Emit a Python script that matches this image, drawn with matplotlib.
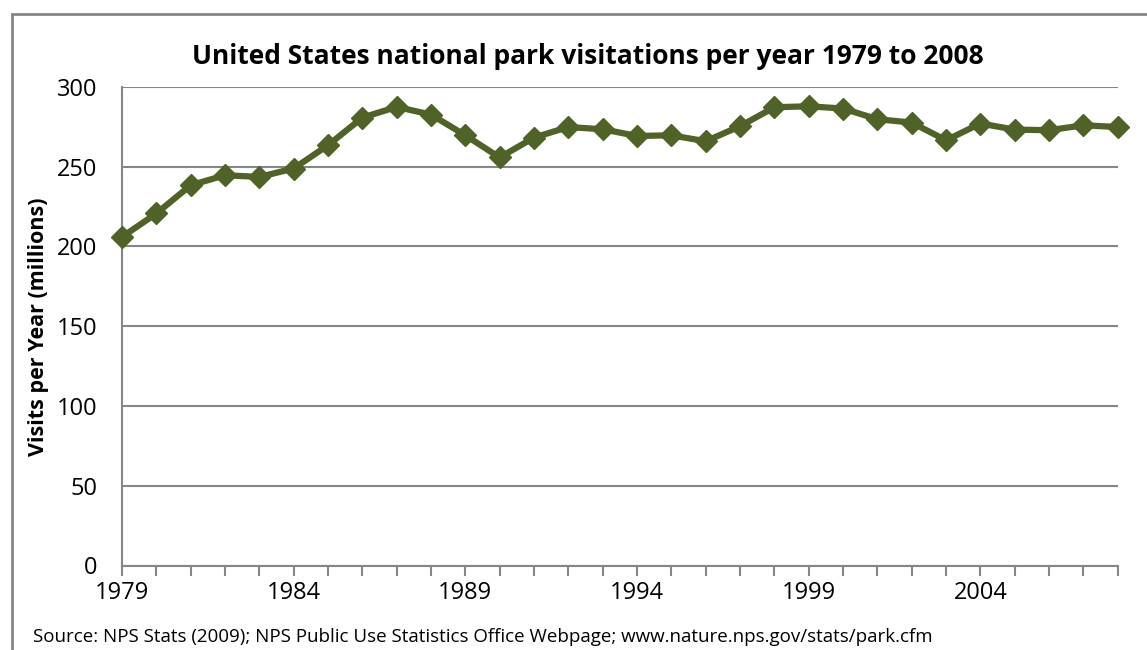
import matplotlib
matplotlib.use("Agg")
import matplotlib.pyplot as plt
from matplotlib.patches import Rectangle
from matplotlib.ticker import MultipleLocator, FixedLocator

years = list(range(1979, 2009))
visits = [206.0, 220.7, 238.4, 244.7, 243.6, 248.9, 263.5, 280.8, 287.5, 282.7,
          269.7, 255.8, 268.3, 274.9, 273.5, 269.3, 269.7, 266.0, 275.4, 287.3,
          287.9, 286.5, 279.8, 277.7, 266.6, 277.1, 273.3, 272.9, 276.0, 274.9]
label_years = [1979, 1984, 1989, 1994, 1999, 2004]

title = "United States national park visitations per year 1979 to 2008"
ylabel = "Visits per Year (millions)"
source = "Source: NPS Stats (2009); NPS Public Use Statistics Office Webpage; www.nature.nps.gov/stats/park.cfm"

W, H = 1147, 650
plt.rcParams['font.family'] = ['Open Sans', 'DejaVu Sans']
fig = plt.figure(figsize=(W / 100, H / 100), dpi=100)

# outer chart frame
fig.patches.append(Rectangle((12 / W, -0.1), 1.2, 1 - 14 / H + 0.1,
                             transform=fig.transFigure, fill=False,
                             edgecolor="#868686", linewidth=2))

ax = fig.add_axes([122 / W, 1 - 565.5 / H, (1117.7 - 122) / W, (565.5 - 87) / H])
line_color = "#4F6228"
ax.plot(years, visits, color=line_color, linewidth=4.5, marker="D",
        markersize=11.5, markerfacecolor=line_color, markeredgecolor=line_color,
        zorder=3, clip_on=False)

ax.set_xlim(1979, 2008)
ax.set_ylim(0, 300)
ax.yaxis.set_major_locator(MultipleLocator(50))
ax.xaxis.set_major_locator(FixedLocator(years))
ax.set_xticklabels([str(y) if y in label_years else "" for y in years])
ax.grid(axis="y", color="#868686", linewidth=1.5)
ax.set_axisbelow(True)

for side in ("top", "right"):
    ax.spines[side].set_visible(False)
for side in ("left", "bottom"):
    ax.spines[side].set_color("#868686")
    ax.spines[side].set_linewidth(1.5)

ax.tick_params(axis="x", direction="out", length=7, width=1.5, color="#868686",
               labelsize=17, pad=4)
ax.tick_params(axis="y", length=0, labelsize=17, pad=18)

ax.set_ylabel(ylabel, fontsize=15.5, fontweight="bold")
ax.yaxis.set_label_coords((49 - 122) / (1117.7 - 122), 0.5)
fig.text(588 / W, 1 - 57 / H, title, ha="center", va="center",
         fontsize=19, fontweight="bold")
fig.text(33 / W, 1 - 637 / H, source, ha="left", va="center", fontsize=13.5)

fig.savefig("out.png", dpi=100)
